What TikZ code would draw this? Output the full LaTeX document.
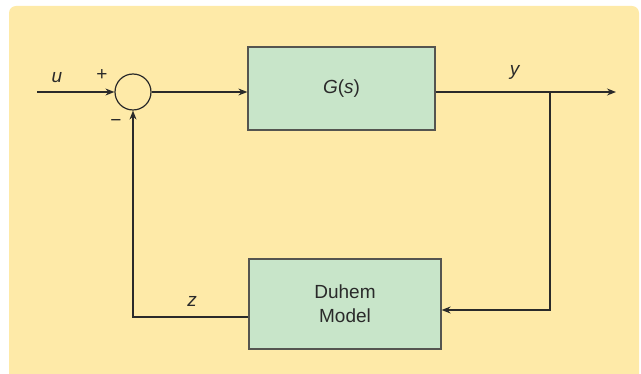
\documentclass[tikz,border=0pt]{standalone}
\usepackage{fontspec}
\setmainfont{Liberation Sans}
\usetikzlibrary{arrows.meta,positioning,calc}
\definecolor{panel}{HTML}{FEEAA8}
\definecolor{blockfill}{HTML}{C8E5C9}
\definecolor{blockline}{HTML}{555550}
\definecolor{wire}{HTML}{2A2A2A}

\begin{document}
\begin{tikzpicture}[
    x=1pt,y=1pt,
    font=\fontsize{19}{24}\selectfont,
    block/.style={draw=blockline,line width=1.3pt,fill=blockfill,align=center,
                  inner sep=0pt,text=wire},
    sumnode/.style={draw=wire,circle,line width=1.2pt,minimum size=36pt,inner sep=0pt},
    arr/.style={-{Stealth[length=9pt,width=7pt,inset=3pt]},draw=wire,line width=1.2pt},
    lbl/.style={inner sep=0pt,text=wire},
    node distance=12mm
  ]
    \useasboundingbox (0,0) rectangle (641,-374);
    \fill[panel,rounded corners=7pt] (9,-6) rectangle (639,-390);

    \node[sumnode] (sum) at (133,-92) {};
    \node[block,minimum width=187pt,minimum height=83pt] (plant) at (341.5,-88.5)
      {\textit{G}(\textit{s})};
    \node[block,minimum width=192pt,minimum height=90pt] (duhem) at (345,-304)
      {Duhem\\Model};

    \coordinate (in) at (37,-92);
    \coordinate (branch) at (550,-92);
    \coordinate (out) at (616,-92);
    \coordinate (din) at ($(duhem.east)+(0,-6)$);
    \coordinate (dout) at ($(duhem.west)+(0,-13)$);

    \draw[arr] (in) -- (sum.west);
    \draw[arr] (sum.east) -- (sum.east -| plant.west);
    \draw[arr] (branch -| plant.east) -- (out);
    \draw[arr] (branch) |- (din);
    \draw[arr] (dout) -| (sum.south);

    \node[lbl] (ulbl) at (57,-78) {\textit{u}};
    \node[lbl] (plus) at (102,-75) {+};
    \node[lbl] (minus) at (116,-123) {−};
    \node[lbl] (ylbl) at (515,-72) {\textit{y}};
    \node[lbl] (zlbl) at (192,-301) {\textit{z}};
  \end{tikzpicture}
\end{document}
